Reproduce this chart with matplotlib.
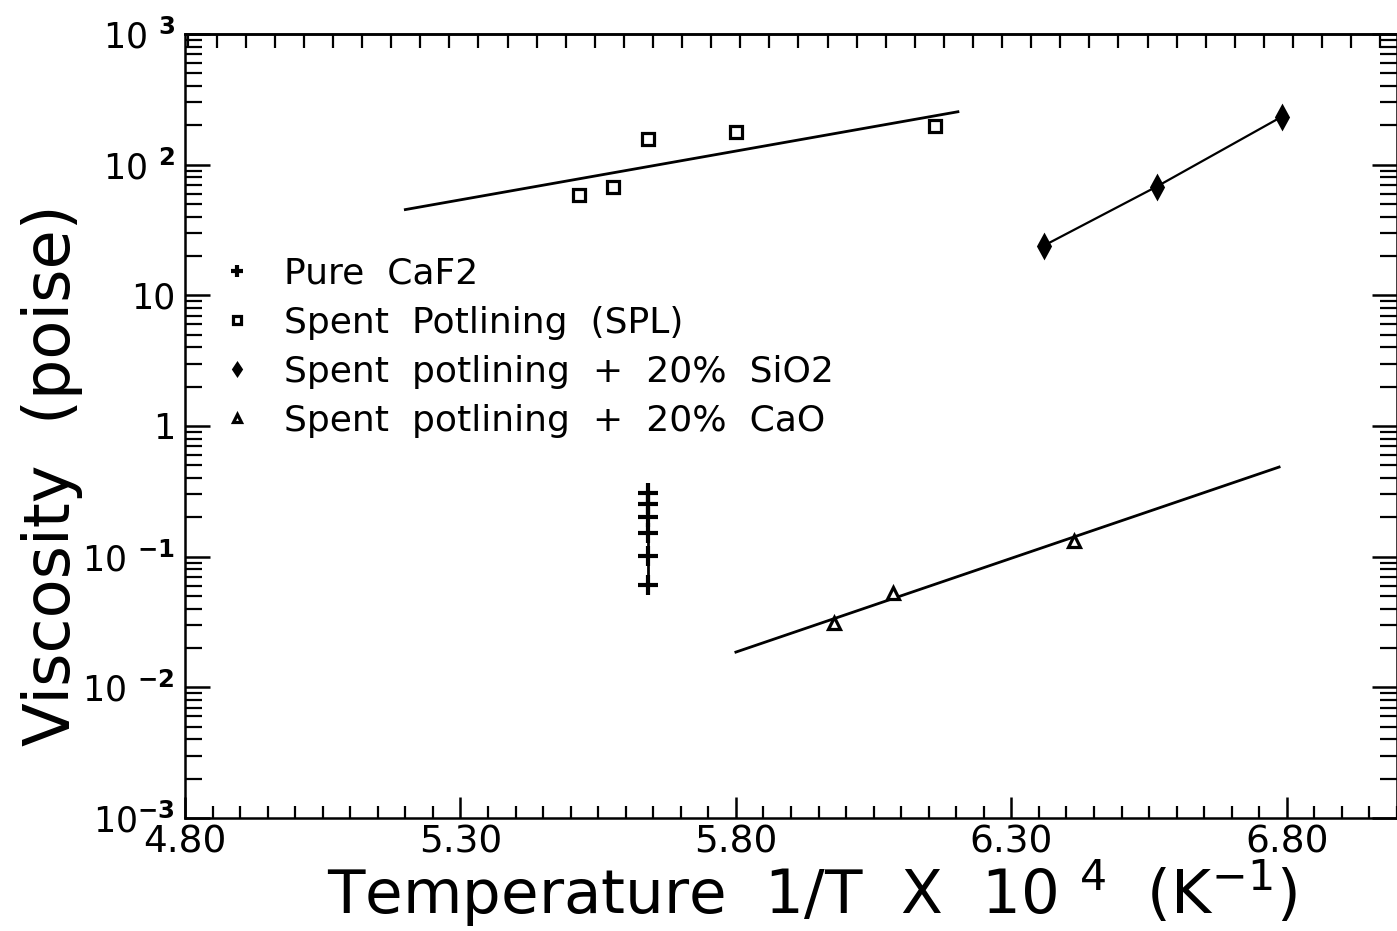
import numpy as np
import matplotlib.pyplot as plt
from matplotlib.ticker import FixedLocator, LogLocator, NullFormatter, MultipleLocator

# data
caf2_x = [5.64, 5.64, 5.64, 5.64, 5.64, 5.64]
caf2_y = [0.308, 0.251, 0.200, 0.151, 0.101, 0.0607]

spl_x = [5.515, 5.577, 5.640, 5.800, 6.161]
spl_y = [58.5, 67, 156, 178, 199]
spl_fit_x = [5.20, 6.203]
spl_fit_y = [45.3, 254]

sio2_x = [6.359, 6.564, 6.791]
sio2_y = [24.0, 68, 233]

cao_x = [5.978, 6.086, 6.413]
cao_y = [0.0309, 0.0524, 0.1324]
cao_fit_x = [5.80, 6.786]
cao_fit_y = [0.0186, 0.485]

labels = ["Pure  CaF2",
          "Spent  Potlining  (SPL)",
          "Spent  potlining  +  20%  SiO2",
          "Spent  potlining  +  20%  CaO"]

x_ticks = [4.80, 5.30, 5.80, 6.30, 6.80]
x_ticklabels = ["4.80", "5.30", "5.80", "6.30", "6.80"]
y_ticks = [1e3, 1e2, 10, 1, 1e-1, 1e-2, 1e-3]
y_ticklabels = [r"10 $^{\mathbf{3}}$", r"10 $^{\mathbf{2}}$", "10", "1",
                r"10 $^{\mathbf{-1}}$", r"10 $^{\mathbf{-2}}$", r"10$^{\mathbf{-3}}$"]


def run():
    fig = plt.figure(figsize=(13.97, 9.31), dpi=100)
    ax = fig.add_axes([0.1324, 0.1214, 0.8676, 0.8421])
    ax.set_yscale("log")

    lw = 2.0
    # fitted lines
    ax.plot(caf2_x, caf2_y, "-", color="k", lw=lw)
    ax.plot(spl_fit_x, spl_fit_y, "-", color="k", lw=lw)
    ax.plot(sio2_x, sio2_y, "-", color="k", lw=1.6)
    ax.plot(cao_fit_x, cao_fit_y, "-", color="k", lw=lw)

    # data markers
    ax.plot(caf2_x, caf2_y, "+", color="k", ms=14, mew=3, ls="none", label=labels[0])
    ax.plot(spl_x, spl_y, "s", color="k", mfc="white", ms=8.5, mew=2.3, ls="none", label=labels[1])
    ax.plot(sio2_x, sio2_y, "d", color="k", mfc="k", ms=11, mew=2, ls="none", label=labels[2])
    ax.plot(cao_x, cao_y, "^", color="k", mfc="white", ms=9, mew=2.3, ls="none", label=labels[3])

    ax.set_xlim(4.8, 7.0)
    ax.set_ylim(1e-3, 1e3)

    ax.xaxis.set_major_locator(FixedLocator(x_ticks))
    ax.set_xticklabels(x_ticklabels)
    ax.xaxis.set_minor_locator(MultipleLocator(0.05))
    ax.yaxis.set_major_locator(FixedLocator(y_ticks))
    ax.set_yticklabels(y_ticklabels)
    ax.yaxis.set_minor_locator(LogLocator(base=10, subs=np.arange(2, 10), numticks=20))
    ax.yaxis.set_minor_formatter(NullFormatter())

    ax.tick_params(axis="x", which="major", direction="in", length=15, width=1.8,
                   labelsize=27, pad=5, top=False)
    ax.tick_params(axis="x", which="minor", direction="in", length=9, width=1.6, top=False)
    ax.tick_params(axis="y", which="major", direction="in", length=18, width=1.8,
                   labelsize=25, pad=7, right=True)
    ax.tick_params(axis="y", which="minor", direction="in", length=12, width=1.6, right=True)

    # top axis has its own plain ticks
    top = ax.secondary_xaxis("top")
    top.xaxis.set_major_locator(MultipleLocator(0.0528))
    top.tick_params(direction="in", length=10, width=1.6, labeltop=False)
    top.spines["top"].set_linewidth(1.8)

    for s in ax.spines.values():
        s.set_linewidth(1.8)

    ax.set_xlabel(r"Temperature  1/T  X  10 $^{4}$  (K$^{-1}$)", fontsize=44, va="center")
    ax.xaxis.set_label_coords(0.517, -0.096)
    ax.set_ylabel("Viscosity  (poise)", fontsize=46, va="center")
    ax.yaxis.set_label_coords(-0.11, 0.4375)

    ax.legend(loc="upper left", bbox_to_anchor=(0.031, 0.716), frameon=False, fontsize=26,
              handlelength=0.8, handletextpad=0.9, labelspacing=0.42, borderaxespad=0,
              borderpad=0, markerscale=0.6)

    fig.savefig("out.png", dpi=100)


if __name__ == '__main__':
    run()
